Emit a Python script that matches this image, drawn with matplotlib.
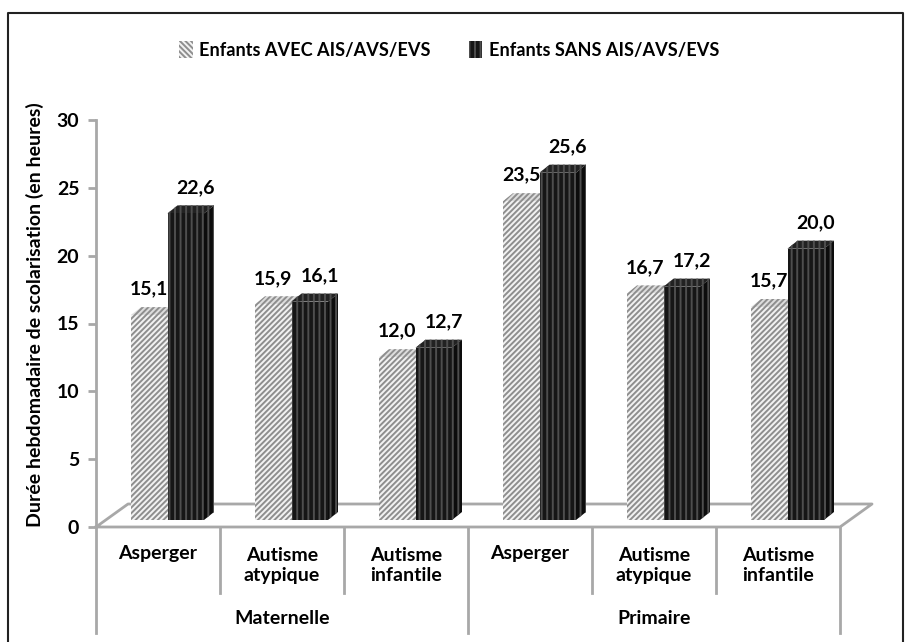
import matplotlib
matplotlib.use('Agg')
import matplotlib.pyplot as plt
from matplotlib.patches import Polygon, Patch, Rectangle
from matplotlib.lines import Line2D

categories = ['Asperger', 'Autisme\natypique', 'Autisme\ninfantile',
              'Asperger', 'Autisme\natypique', 'Autisme\ninfantile']
levels = ['Maternelle', 'Primaire']
avec = [15.1, 15.9, 12.0, 23.5, 16.7, 15.7]
sans = [22.6, 16.1, 12.7, 25.6, 17.2, 20.0]
avec_labels = ['15,1', '15,9', '12,0', '23,5', '16,7', '15,7']
sans_labels = ['22,6', '16,1', '12,7', '25,6', '17,2', '20,0']
series_names = ['Enfants AVEC AIS/AVS/EVS', 'Enfants SANS AIS/AVS/EVS']
yticks = [0, 5, 10, 15, 20, 25, 30]

plt.rcParams['font.family'] = 'Lato'
plt.rcParams['font.weight'] = 'bold'
plt.rcParams['hatch.linewidth'] = 1.4

W, H = 906, 642
fig = plt.figure(figsize=(W / 100, H / 100), dpi=100)
ax = fig.add_axes([96 / W, 1 - 527 / H, 744 / W, 407 / H])
ax.set_xlim(0, 6)
ax.set_ylim(0, 30)
ax.patch.set_visible(False)

# size of one pixel in data units, the 3D look is built from these
px = 6 / 744
py = 30 / 407
depth_x = 10 * px
depth_y = 8 * py
base = 7 * py
bar_w = 36.5 * px
start = 35 * px

axis_col = '#a8a8a8'
for s in ['top', 'right', 'bottom']:
    ax.spines[s].set_visible(False)
ax.spines['left'].set_color(axis_col)
ax.spines['left'].set_linewidth(2)
ax.set_xticks([])
ax.set_yticks(yticks)
ax.tick_params(axis='y', length=6, width=2, color=axis_col, labelsize=14, pad=6)
ax.set_ylabel('Durée hebdomadaire de scolarisation (en heures)', fontsize=14, fontweight='bold')
ax.yaxis.set_label_coords(-52 / 744, 0.523)

# floor of the 3D box
floor_x = [0, 32 * px, 6 + 32 * px, 6, 0]
floor_y = [0, 23 * py, 23 * py, 0, 0]
ax.plot(floor_x, floor_y, color=axis_col, lw=2, clip_on=False, zorder=1)


def draw_bar(x, v, front, top, side, edge, hatch, z):
    y0 = base
    y1 = base + v
    ax.add_patch(Polygon([(x + bar_w, y0), (x + bar_w + depth_x, y0 + depth_y),
                          (x + bar_w + depth_x, y1 + depth_y), (x + bar_w, y1)],
                         facecolor=side, edgecolor=edge, hatch=hatch, lw=0, zorder=z, clip_on=False))
    ax.add_patch(Polygon([(x, y1), (x + depth_x, y1 + depth_y),
                          (x + bar_w + depth_x, y1 + depth_y), (x + bar_w, y1)],
                         facecolor=top, edgecolor=edge, hatch=hatch, lw=0, zorder=z, clip_on=False))
    ax.add_patch(Rectangle((x, y0), bar_w, y1 - y0, facecolor=front, edgecolor=edge,
                           hatch=hatch, lw=0, zorder=z, clip_on=False))


for i in range(6):
    x1 = i + start
    x2 = x1 + bar_w
    draw_bar(x1, avec[i], '#f2f2f2', '#dddddd', '#c8c8c8', '#8e8e8e', '//////', 3)
    draw_bar(x2, sans[i], '#161616', '#222222', '#0c0c0c', '#4e4e4e', '|||', 4)
    ax.text(x1 + bar_w / 2, base + avec[i] + depth_y + 18 * py, avec_labels[i], ha='center',
            va='center', fontsize=14, zorder=6, clip_on=False)
    ax.text(x2 + bar_w / 2 + depth_x, base + sans[i] + depth_y + 18 * py, sans_labels[i], ha='center',
            va='center', fontsize=14, zorder=6, clip_on=False)

# two level category axis below the floor
short_y = -66 * py
long_y = -106 * py
for i in range(7):
    end = long_y if i in (0, 3, 6) else short_y
    ax.add_line(Line2D([i, i], [0, end], color=axis_col, lw=2, clip_on=False))
for i, c in enumerate(categories):
    ax.text(i + 0.5, -26 * py if '\n' not in c else -38.5 * py, c, ha='center', va='center',
            fontsize=14, linespacing=1.25, clip_on=False)
for i, lev in enumerate(levels):
    ax.text(1.5 + 3 * i, -91 * py, lev, ha='center', va='center', fontsize=14, clip_on=False)

handles = [Patch(facecolor='#f2f2f2', edgecolor='#8e8e8e', hatch='\\\\\\\\\\\\', lw=0),
           Patch(facecolor='#161616', edgecolor='#4e4e4e', hatch='|||', lw=0)]
fig.legend(handles, series_names, loc='center', bbox_to_anchor=(449 / W, 1 - 50 / H), ncol=2,
           frameon=False, fontsize=13.1, handlelength=0.75, handleheight=1.0, handletextpad=0.35,
           columnspacing=2.1)

# black frame, its lower edge runs off the bottom of the image
fig.add_artist(Line2D([8 / W, 8 / W, 903 / W, 903 / W], [0, 1 - 13 / H, 1 - 13 / H, 0],
                      transform=fig.transFigure, color='#222222', lw=1.5))

fig.savefig('out.png', dpi=100)
